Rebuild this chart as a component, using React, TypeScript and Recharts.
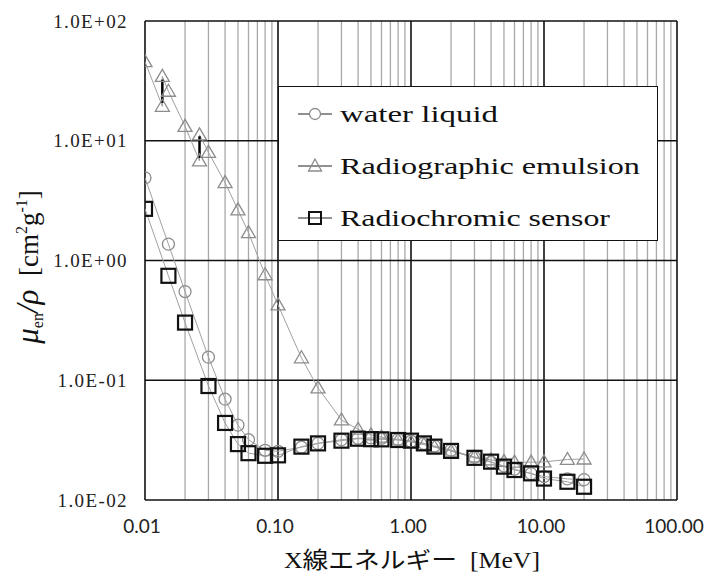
import React from 'react';
import {
  LineChart,
  Line,
  XAxis,
  YAxis,
  ReferenceLine,
  Legend,
} from 'recharts';

// photon energy [MeV] and mass energy-absorption coefficient [cm2/g]
const waterE = [0.01, 0.015, 0.02, 0.03, 0.04, 0.05, 0.06, 0.08, 0.1, 0.15, 0.2, 0.3, 0.4, 0.5, 0.6, 0.8, 1, 1.25, 1.5, 2, 3, 4, 5, 6, 8, 10, 15, 20];
const waterMu = [4.9, 1.37, 0.55, 0.156, 0.0695, 0.0422, 0.0319, 0.026, 0.0255, 0.0276, 0.0297, 0.0319, 0.0328, 0.033, 0.0328, 0.0321, 0.031, 0.0297, 0.0283, 0.0261, 0.0228, 0.0207, 0.0192, 0.0181, 0.0166, 0.0157, 0.015, 0.0148];

const emulsionE = [0.01, 0.0135, 0.0135, 0.015, 0.02, 0.0257, 0.0257, 0.03, 0.04, 0.05, 0.06, 0.08, 0.1, 0.15, 0.2, 0.3, 0.4, 0.5, 0.6, 0.8, 1, 1.25, 1.5, 2, 3, 4, 5, 6, 8, 10, 15, 20];
const emulsionMu = [45.8, 19.4, 34.5, 25.9, 13.2, 6.8, 11.2, 8.0, 4.47, 2.65, 1.71, 0.76, 0.426, 0.154, 0.0863, 0.0466, 0.039, 0.035, 0.0335, 0.0318, 0.0305, 0.029, 0.0276, 0.0256, 0.0229, 0.0216, 0.021, 0.0207, 0.0207, 0.0208, 0.0218, 0.022];

const sensorE = [0.01, 0.015, 0.02, 0.03, 0.04, 0.05, 0.06, 0.08, 0.1, 0.15, 0.2, 0.3, 0.4, 0.5, 0.6, 0.8, 1, 1.25, 1.5, 2, 3, 4, 5, 6, 8, 10, 15, 20];
const sensorMu = [2.7, 0.745, 0.303, 0.0895, 0.044, 0.0293, 0.0246, 0.0234, 0.0236, 0.0279, 0.0297, 0.0313, 0.0325, 0.0322, 0.0321, 0.0317, 0.0313, 0.0297, 0.0279, 0.0257, 0.0225, 0.0209, 0.019, 0.0178, 0.0167, 0.0151, 0.0142, 0.0129];

// absorption edges of the emulsion (black bars)
const edgeE = [0.0135, 0.0257];
const edgeLo = [20.7, 7.2];
const edgeHi = [32.4, 10.9];

const xTicks = [0.01, 0.1, 1, 10, 100];
const yTicks = [0.01, 0.1, 1, 10, 100];
const minorX = [0.01, 0.1, 1, 10].flatMap((d) => [2, 3, 4, 5, 6, 7, 8, 9].map((m) => +(d * m).toPrecision(3)));

const toRows = (xs: number[], ys: number[]) => xs.map((e, i) => ({ e, mu: ys[i] }));

const SERIF = '"Liberation Serif", "Times New Roman", serif';
const GRAY = '#8c8c8c';

const fmtY = (v: number) => {
  const exp = Math.round(Math.log10(v));
  const s = String(Math.abs(exp)).padStart(2, '0');
  return `1.0E${exp < 0 ? '-' : '+'}${s}`;
};

const CircleDot = (p: any) => (
  <circle key={p.index} cx={p.cx} cy={p.cy} r={6} fill="none" stroke={GRAY} strokeWidth={1.3} />
);
const TriangleDot = (p: any) => (
  <polygon
    key={p.index}
    points={`${p.cx},${p.cy - 7} ${p.cx - 7},${p.cy + 5} ${p.cx + 7},${p.cy + 5}`}
    fill="none"
    stroke={GRAY}
    strokeWidth={1.3}
  />
);
const SquareDot = (p: any) => (
  <rect key={p.index} x={p.cx - 7} y={p.cy - 7} width={14} height={14} fill="none" stroke="#111" strokeWidth={2.2} />
);

// label + printed width in the figure
const legendItems = [
  { label: 'water liquid', icon: 'circle', w: 158 },
  { label: 'Radiographic emulsion', icon: 'triangle', w: 300 },
  { label: 'Radiochromic sensor', icon: 'square', w: 270 },
];

const LegendBox = () => (
  <svg width={377} height={152} style={{ display: 'block' }}>
    {legendItems.map((it, i) => {
      const cy = 27 + i * 52;
      return (
        <g key={it.label}>
          <line x1={19} y1={cy} x2={53} y2={cy} stroke="#222" strokeWidth={1.2} />
          {it.icon === 'circle' && <circle cx={36} cy={cy} r={5.5} fill="white" stroke={GRAY} strokeWidth={1.3} />}
          {it.icon === 'triangle' && <polygon points={`36,${cy - 7} 29.5,${cy + 5} 42.5,${cy + 5}`} fill="none" stroke={GRAY} strokeWidth={1.3} />}
          {it.icon === 'square' && <rect x={30} y={cy - 6} width={12} height={12} fill="none" stroke="#111" strokeWidth={2} />}
          <text
            x={61}
            y={cy + 8}
            fontFamily={SERIF}
            fontSize={23}
            fill="#111"
            textLength={it.w}
            lengthAdjust="spacingAndGlyphs"
          >
            {it.label}
          </text>
        </g>
      );
    })}
  </svg>
);

export default function App() {
  return (
    <div style={{ position: 'absolute', left: 0, top: 0, width: 710, height: 573, background: '#fff' }}>
      <LineChart width={710} height={573} margin={{ top: 21, right: 33, bottom: 23, left: 0 }}>
        <XAxis
          type="number"
          dataKey="e"
          scale="log"
          domain={[0.01, 100]}
          ticks={xTicks}
          allowDataOverflow
          axisLine={false}
          tickLine={false}
          tickSize={0}
          tickMargin={20}
          height={50}
          tick={{ fontFamily: 'Lato, "Liberation Sans", sans-serif', fontSize: 19, fill: '#222', dx: -3 }}
          tickFormatter={(v: number) => v.toFixed(2)}
          label={{
            content: () => (
              <text
                x={412}
                y={568}
                textAnchor="middle"
                fontFamily={`${SERIF}, "Noto Sans CJK JP"`}
                fontSize={23}
                fill="#111"
                textLength={256}
                lengthAdjust="spacingAndGlyphs"
              >
                {'X線エネルギー\u00a0\u00a0[MeV]'}
              </text>
            ),
          }}
        />
        <YAxis
          type="number"
          dataKey="mu"
          scale="log"
          domain={[0.01, 100]}
          ticks={yTicks}
          allowDataOverflow
          axisLine={false}
          tickLine={false}
          tickSize={0}
          tickMargin={17}
          width={145}
          tick={{ fontFamily: SERIF, fontSize: 19, fill: '#222', letterSpacing: 1.4 }}
          tickFormatter={fmtY}
          label={{
            content: () => (
              <text
                transform="translate(38,267) rotate(-90)"
                textAnchor="middle"
                fontFamily={SERIF}
                fontSize={27}
                fill="#111"
              >
                <tspan fontStyle="italic" fontSize={31}>μ</tspan>
                <tspan fontSize={16} dy={5}>en</tspan>
                <tspan dy={-5} fontStyle="italic" fontSize={31}>/ρ</tspan>
                <tspan>{'\u00a0\u00a0[cm'}</tspan>
                <tspan fontSize={16} dy={-11}>2</tspan>
                <tspan dy={11}>g</tspan>
                <tspan fontSize={16} dy={-11}>-1</tspan>
                <tspan dy={11}>]</tspan>
              </text>
            ),
          }}
        />

        {minorX.map((v) => (
          <ReferenceLine key={`mx${v}`} x={v} stroke="#a8a8a8" strokeWidth={1.3} ifOverflow="hidden" />
        ))}
        {xTicks.map((v) => (
          <ReferenceLine key={`Mx${v}`} x={v} stroke="#111" strokeWidth={1.6} />
        ))}
        {yTicks.map((v) => (
          <ReferenceLine key={`My${v}`} y={v} stroke="#111" strokeWidth={1.6} />
        ))}

        <Line
          data={toRows(waterE, waterMu)}
          dataKey="mu"
          name="water liquid"
          type="linear"
          stroke="#a0a0a0"
          strokeWidth={1}
          dot={CircleDot}
          activeDot={false}
          isAnimationActive={false}
        />
        <Line
          data={toRows(emulsionE, emulsionMu)}
          dataKey="mu"
          name="Radiographic emulsion"
          type="linear"
          stroke="#a0a0a0"
          strokeWidth={1}
          dot={TriangleDot}
          activeDot={false}
          isAnimationActive={false}
        />
        {edgeE.map((e, i) => (
          <ReferenceLine
            key={`edge${e}`}
            segment={[{ x: e, y: edgeLo[i] }, { x: e, y: edgeHi[i] }]}
            stroke="#000"
            strokeWidth={2.5}
          />
        ))}
        <Line
          data={toRows(sensorE, sensorMu)}
          dataKey="mu"
          name="Radiochromic sensor"
          type="linear"
          stroke="#a0a0a0"
          strokeWidth={1}
          dot={SquareDot}
          activeDot={false}
          isAnimationActive={false}
        />

        <Legend
          layout="vertical"
          align="center"
          verticalAlign="middle"
          content={() => <LegendBox />}
          wrapperStyle={{
            left: 278,
            top: 86,
            width: 380,
            height: 155,
            background: '#fff',
            border: '1.5px solid #111',
            boxSizing: 'border-box',
          }}
        />
      </LineChart>
    </div>
  );
}
